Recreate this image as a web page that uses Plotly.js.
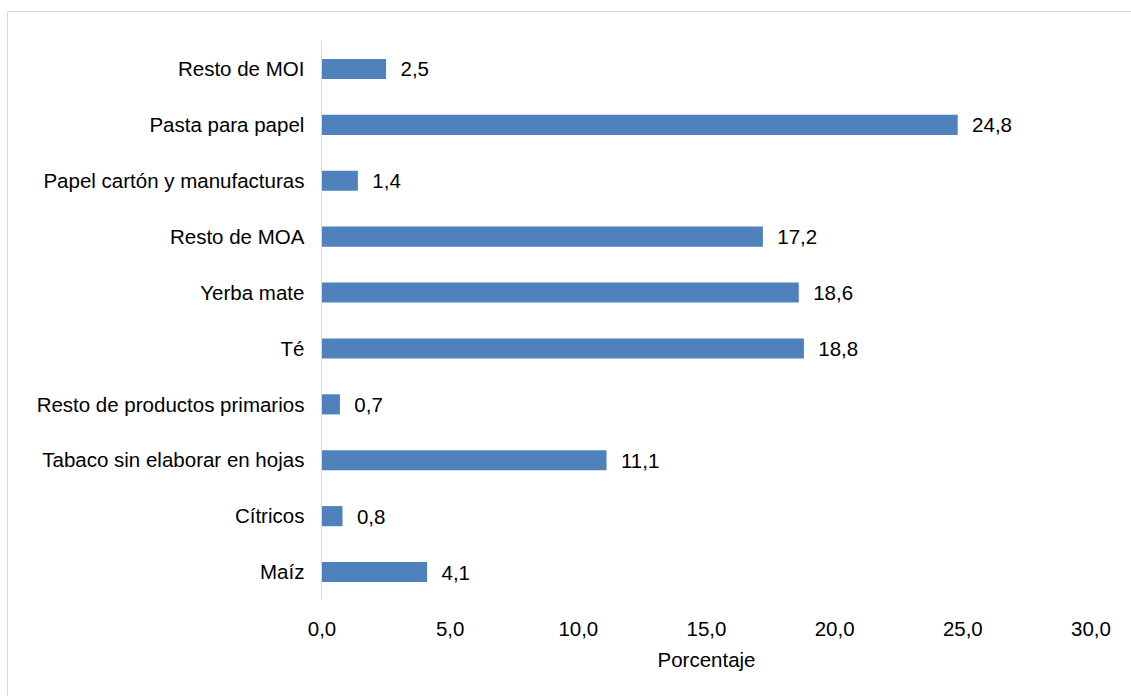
<!DOCTYPE html>
<html>
<head>
<meta charset="utf-8">
<script src="https://cdn.plot.ly/plotly-3.0.1.min.js"></script>
<style>
  html, body { margin: 0; padding: 0; background: #ffffff; }
  #frame { position: absolute; left: 7px; top: 11px; width: 1200px; height: 800px; border: 1.5px solid #d9d9d9; box-sizing: border-box; }
  #chart { position: absolute; left: 0; top: 0; width: 1131px; height: 696px; }
</style>
</head>
<body>
<div id="frame"></div>
<div id="chart"></div>
<script>
const categories = [
  "Resto de MOI",
  "Pasta para papel",
  "Papel cartón y manufacturas",
  "Resto de MOA",
  "Yerba mate",
  "Té",
  "Resto de productos primarios",
  "Tabaco sin elaborar en hojas",
  "Cítricos",
  "Maíz"
];
const values = [2.5, 24.8, 1.4, 17.2, 18.6, 18.8, 0.7, 11.1, 0.8, 4.1];
const xTicks = [0, 5, 10, 15, 20, 25, 30];
const xTitle = "Porcentaje";

const font = { family: "Liberation Sans, Arial, Helvetica, sans-serif", size: 20.5, color: "#000000" };

const trace = {
  type: "bar",
  orientation: "h",
  x: values,
  y: categories,
  marker: { color: "#4f81bd" },
  texttemplate: "\u00a0\u00a0%{x:.1f}",
  textposition: "outside",
  constraintext: "none",
  textfont: font,
  cliponaxis: false,
  hoverinfo: "x+y"
};

const layout = {
  width: 1131,
  height: 696,
  margin: { l: 322, r: 40, t: 41, b: 96 },
  paper_bgcolor: "rgba(0,0,0,0)",
  plot_bgcolor: "rgba(0,0,0,0)",
  separators: ",.",
  font: font,
  bargap: 0.64,
  showlegend: false,
  xaxis: {
    range: [0, 30],
    tickvals: xTicks,
    tickformat: ".1f",
    showgrid: false,
    zeroline: false,
    showline: false,
    ticks: "outside",
    ticklen: 10,
    tickcolor: "rgba(0,0,0,0)",
    tickfont: font,
    title: { text: xTitle, font: font, standoff: 14 }
  },
  yaxis: {
    autorange: "reversed",
    showgrid: false,
    zeroline: false,
    showline: true,
    linecolor: "#d9d9d9",
    linewidth: 1.5,
    ticks: "outside",
    ticklen: 12,
    tickcolor: "rgba(0,0,0,0)",
    tickfont: font
  }
};

Plotly.newPlot("chart", [trace], layout, { displayModeBar: false, staticPlot: true });
</script>
</body>
</html>
